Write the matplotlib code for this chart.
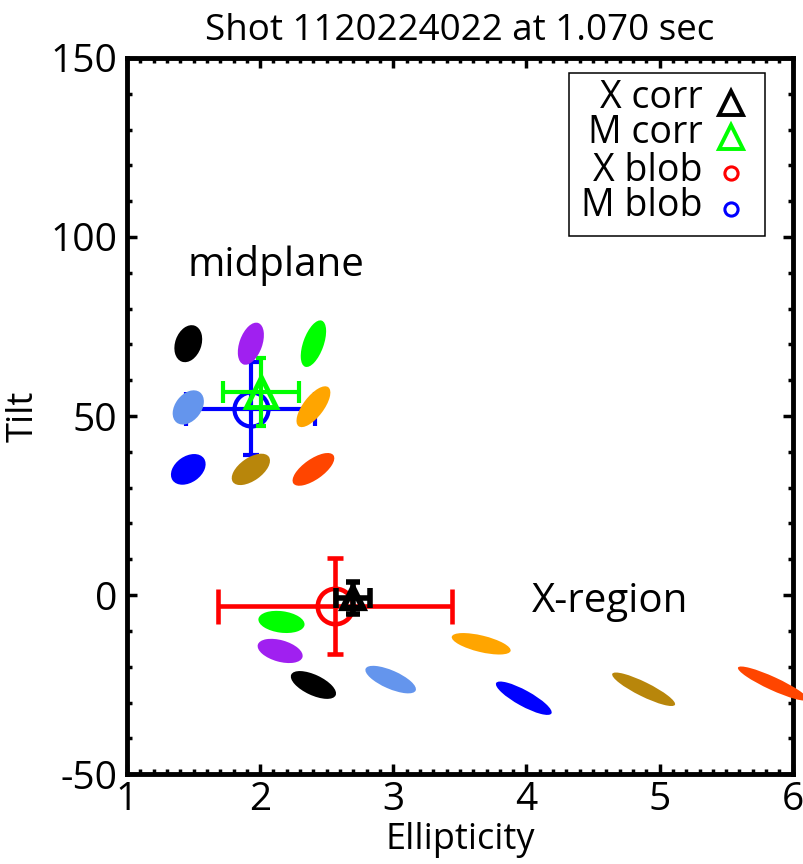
import numpy as np
import matplotlib
matplotlib.use('Agg')
import matplotlib.pyplot as plt
from matplotlib.patches import Ellipse, Rectangle
from matplotlib.transforms import ScaledTranslation

plt.rcParams['font.family'] = ['Open Sans', 'DejaVu Sans']

# ellipses drawn at (ellipticity, tilt); shape follows the same values
ell_colors = ['black', '#A020F0', '#00FF00', '#6495ED', '#FFA500',
              '#0000FF', '#B8860B', '#FF4500']
mid_ell = [1.46, 1.93, 2.40, 1.46, 2.40, 1.46, 1.93, 2.40]
mid_tilt = [70.2, 70.2, 70.2, 52.4, 52.6, 35.1, 35.1, 35.1]
xr_ell = [2.40, 2.15, 2.16, 2.98, 3.66, 3.98, 4.88, 5.85]
xr_tilt = [-25.1, -15.6, -7.5, -23.6, -13.6, -28.8, -26.3, -24.7]

# blob / correlation estimates with errors
xblob = (2.56, -3.0, 0.88, 13.4)
mblob = (1.93, 52.0, 0.484, 13.0)
xcorr = (2.70, -0.8, 0.128, 4.5)
mcorr = (2.005, 56.8, 0.285, 9.5)

fig = plt.figure(figsize=(8.04, 8.64), dpi=100)
ax = fig.add_axes([0.158, 0.104, 0.828, 0.829])
ax.set_xlim(1, 6)
ax.set_ylim(-50, 150)


def errs(v, col, capx, capy, z, lw=3):
    x, y, dx, dy = v
    ax.errorbar(x, y, xerr=dx, fmt='none', ecolor=col, elinewidth=lw,
                capsize=capx, capthick=lw, zorder=z)
    ax.errorbar(x, y, yerr=dy, fmt='none', ecolor=col, elinewidth=lw,
                capsize=capy, capthick=lw, zorder=z)


errs(mblob, '#0000FF', 12.5, 6, 2)
ax.plot(mblob[0], mblob[1], 'o', mfc='none', mec='#0000FF', ms=24.5, mew=3, zorder=2)
errs(mcorr, '#00FF00', 7.8, 3.6, 3)
ax.plot(mcorr[0], mcorr[1], '^', mfc='none', mec='#00FF00', ms=21, mew=3.5, zorder=3)
errs(xblob, '#FF0000', 12.6, 5.8, 2, lw=3.3)
ax.plot(xblob[0], xblob[1], 'o', mfc='none', mec='#FF0000', ms=25.5, mew=3.3, zorder=2)
errs(xcorr, 'black', 7, 5, 5, lw=4)
ax.plot(xcorr[0], xcorr[1], '^', mfc='none', mec='black', ms=15, mew=4.5, zorder=5)

area = 1000.0  # px^2
for ex, ey in [(mid_ell, mid_tilt), (xr_ell, xr_tilt)]:
    for e, t, c in zip(ex, ey, ell_colors):
        major = np.sqrt(area * e) / 100.0
        minor = np.sqrt(area / e) / 100.0
        tr = fig.dpi_scale_trans + ScaledTranslation(e, t, ax.transData)
        ax.add_patch(Ellipse((0, 0), major, minor, angle=t, transform=tr,
                             facecolor=c, edgecolor='none', clip_on=False, zorder=4))

ax.text(2.12, 92, 'midplane', fontsize=29, ha='center', va='center')
ax.text(4.63, -2, 'X-region', fontsize=29, ha='center', va='center')

# legend box
ax.add_patch(Rectangle((0.664, 0.751), 0.295, 0.228, transform=ax.transAxes,
                       facecolor='white', edgecolor='black', lw=1.1, zorder=6))
leg_labels = ['X corr', 'M corr', 'X blob', 'M blob']
leg_base = [0.930, 0.881, 0.828, 0.779]
leg_mk = [('^', 'black', 17), ('^', '#00FF00', 17), ('o', '#FF0000', 9.5), ('o', '#0000FF', 9.5)]
leg_my = [0.937, 0.890, 0.839, 0.789]
for lab, yb, (m, c, s), ym in zip(leg_labels, leg_base, leg_mk, leg_my):
    ax.text(0.865, yb, lab, transform=ax.transAxes, fontsize=27,
            ha='right', va='baseline', zorder=7)
    ax.plot(0.908, ym, m, transform=ax.transAxes, mfc='none', mec=c, ms=s,
            mew=2.8 if m == '^' else 2.2, zorder=7, clip_on=False)

ax.set_xticks([1, 2, 3, 4, 5, 6])
ax.set_xticks(np.arange(1, 6.01, 0.1), minor=True)
ax.set_yticks([-50, 0, 50, 100, 150])
ax.set_yticks(np.arange(-50, 151, 10), minor=True)
ax.set_yticklabels(['-50', '0', '50', '100', '150'])
ax.tick_params(which='both', direction='in', top=True, right=True, width=2.5, labelsize=28)
ax.tick_params(which='major', length=7.5)
ax.tick_params(which='minor', length=3.6)
ax.tick_params(axis='x', pad=5)
ax.tick_params(axis='y', pad=7)
for s in ax.spines.values():
    s.set_linewidth(3.5)

ax.set_xlabel('Ellipticity', fontsize=26, labelpad=2)
ax.set_ylabel('Tilt', fontsize=26, labelpad=6)
ax.set_title('Shot 1120224022 at 1.070 sec', fontsize=26.5, pad=13)

fig.savefig('out.png', dpi=100)
